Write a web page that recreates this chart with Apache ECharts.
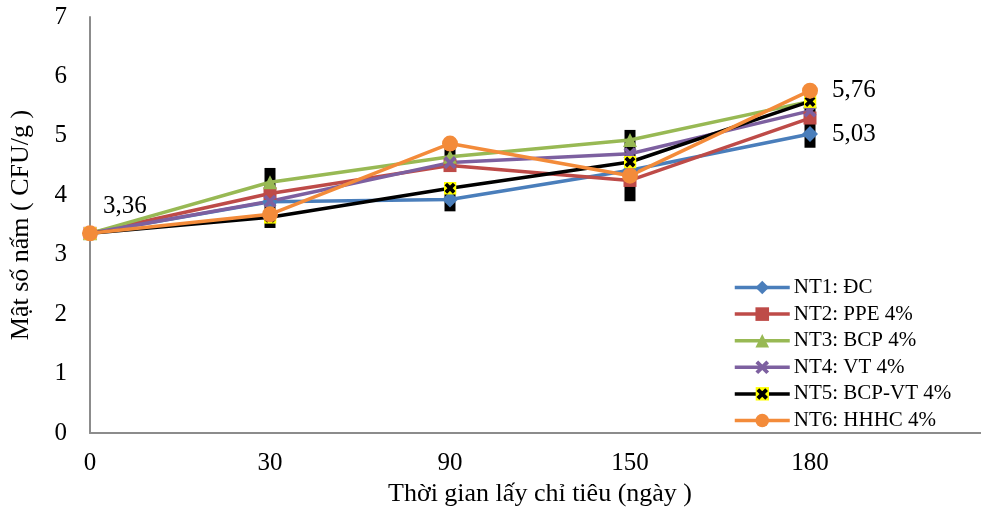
<!DOCTYPE html>
<html>
<head>
<meta charset="utf-8">
<script src="https://cdn.jsdelivr.net/npm/echarts@6/dist/echarts.min.js"></script>
<style>
  html, body { margin: 0; padding: 0; background: #fff; }
  #chart { width: 981px; height: 510px; }
</style>
</head>
<body>
<div id="chart"></div>
<script>
// Sampling days (last slot left empty so the axis runs on past 180)
const days = ['0', '30', '90', '150', '180', ''];

// Fungal density per treatment
const nt1 = [3.36, 3.89, 3.93, 4.42, 5.03];
const nt2 = [3.36, 4.03, 4.50, 4.25, 5.30];
const nt3 = [3.36, 4.22, 4.65, 4.93, 5.58];
const nt4 = [3.36, 3.90, 4.55, 4.70, 5.42];
const nt5 = [3.36, 3.63, 4.12, 4.56, 5.58];
const nt6 = [3.36, 3.68, 4.87, 4.33, 5.76];

// Error bar segments: category index, lower end, upper end
const errDay  = [1, 2, 2, 3, 4];
const errLow  = [3.45, 3.73, 4.40, 3.90, 4.80];
const errHigh = [4.46, 4.05, 4.78, 5.10, 5.80];

const yTicks = [0, 1, 2, 3, 4, 5, 6, 7];

const FONT = "'Liberation Serif', 'Times New Roman', serif";

const nt5Icon = 'image://data:image/svg+xml;charset=utf-8,' + encodeURIComponent(
  "<svg xmlns='http://www.w3.org/2000/svg' width='14' height='14' viewBox='0 0 14 14'>" +
  "<rect width='14' height='14' fill='#ffff00'/>" +
  "<path d='M2.5 2.5L11.5 11.5M11.5 2.5L2.5 11.5' stroke='#000' stroke-width='4'/></svg>");

const crossPath = 'path://M0,2L2,0L5,3L8,0L10,2L7,5L10,8L8,10L5,7L2,10L0,8L3,5Z';

function lineSeries(name, data, color, symbol, size) {
  return {
    name: name,
    type: 'line',
    data: data,
    symbol: symbol,
    symbolSize: size,
    showAllSymbol: true,
    lineStyle: { color: color, width: 3.5 },
    itemStyle: { color: color },
    emphasis: { disabled: true },
    animation: false,
    z: 3
  };
}

const labelStyle = { fontFamily: FONT, fontSize: 25, color: '#000' };

function valueLabel(v, extra) {
  return {
    value: v,
    label: Object.assign({ show: true, position: 'right', formatter: () => String(v).replace('.', ',') }, labelStyle, extra)
  };
}

const series = [
  {
    type: 'custom',
    name: 'err',
    data: errDay.map((d, i) => [d, errLow[i], errHigh[i]]),
    renderItem: function (params, api) {
      const lo = api.coord([api.value(0), api.value(1)]);
      const hi = api.coord([api.value(0), api.value(2)]);
      return {
        type: 'rect',
        shape: { x: lo[0] - 5.5, y: hi[1], width: 11, height: lo[1] - hi[1] },
        style: { fill: '#000' }
      };
    },
    z: 1,
    animation: false,
    silent: true
  },
  lineSeries('NT1: ĐC', nt1.map((v, i) => i === 4 ? valueLabel(v, { distance: 14 }) : v), '#4A7EBB', 'diamond', 16),
  lineSeries('NT2: PPE 4%', nt2, '#BE4B48', 'rect', 13),
  lineSeries('NT3: BCP 4%', nt3, '#98B954', 'triangle', 14),
  lineSeries('NT4: VT 4%', nt4, '#7D60A0', crossPath, 13),
  lineSeries('NT5: BCP-VT 4%', nt5, '#000000', nt5Icon, 13),
  lineSeries('NT6: HHHC 4%', nt6.map((v, i) => {
      if (i === 0) return valueLabel(v, { distance: 5, offset: [0, -27] });
      if (i === 4) return valueLabel(v, { distance: 14 });
      return v;
    }), '#F38B3A', 'circle', 16)
];

const chart = echarts.init(document.getElementById('chart'));
chart.setOption({
  backgroundColor: '#fff',
  animation: false,
  grid: { left: 90, right: -9, top: 17, bottom: 77, containLabel: false, outerBoundsMode: 'none' },
  legend: {
    data: ['NT1: ĐC', 'NT2: PPE 4%', 'NT3: BCP 4%', 'NT4: VT 4%', 'NT5: BCP-VT 4%', 'NT6: HHHC 4%'],
    orient: 'vertical',
    left: 733,
    top: 277,
    padding: 0,
    itemWidth: 55,
    itemHeight: 17,
    itemGap: 5.6,
    lineStyle: { width: 3.5 },
    textStyle: { fontFamily: FONT, fontSize: 21, lineHeight: 17, color: '#000', padding: [0, 0, 0, -1] }
  },
  xAxis: {
    type: 'category',
    data: days,
    boundaryGap: false,
    name: 'Thời gian lấy chỉ tiêu (ngày )',
    nameLocation: 'middle',
    nameGap: 47,
    nameTextStyle: { fontFamily: FONT, fontSize: 26, color: '#000' },
    axisLine: { lineStyle: { color: '#8c8c8c', width: 2 } },
    axisTick: { show: false },
    axisLabel: { fontFamily: FONT, fontSize: 25, color: '#000', margin: 18, interval: 0 },
    splitLine: { show: false }
  },
  yAxis: {
    type: 'value',
    min: yTicks[0],
    max: yTicks[yTicks.length - 1],
    interval: 1,
    name: 'Mật số nấm ( CFU/g )',
    nameLocation: 'middle',
    nameGap: 56,
    nameTextStyle: { fontFamily: FONT, fontSize: 26, color: '#000' },
    axisLine: { show: true, lineStyle: { color: '#8c8c8c', width: 2 } },
    axisTick: { show: false },
    axisLabel: { fontFamily: FONT, fontSize: 25, color: '#000', margin: 23 },
    splitLine: { show: false }
  },
  series: series
});
</script>
</body>
</html>
